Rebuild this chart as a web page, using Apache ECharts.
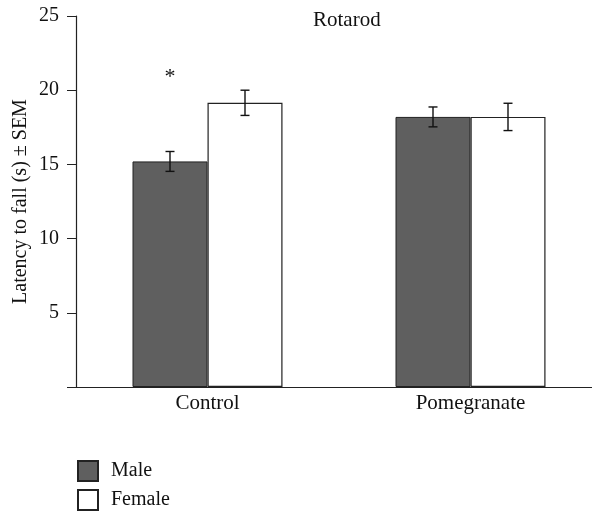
<!DOCTYPE html>
<html><head><meta charset="utf-8">
<script src="https://cdn.jsdelivr.net/npm/echarts@6/dist/echarts.min.js"></script>
<style>html,body{margin:0;padding:0;background:#fff}#c{width:592px;height:511px}</style>
</head><body><div id="c"></div>
<script>
const categories = ['Control', 'Pomegranate'];
const seriesNames = ['Male', 'Female'];
const maleMean = [15.2, 18.2];
const maleSem = [0.67, 0.67];
const femaleMean = [19.15, 18.2];
const femaleSem = [0.85, 0.92];
const sigMarks = ['*', ''];
const sigLevel = [20.9, null];
const yTicks = [0, 5, 10, 15, 20, 25];

const FONT = '"Liberation Serif", "DejaVu Serif", serif';
const chart = echarts.init(document.getElementById('c'));

function errRender(means, sems, side, marks) {
  return function (params, api) {
    const i = api.value(0);
    const off = side * 37.5;
    const top = api.coord([i, means[i] + sems[i]]);
    const bot = api.coord([i, means[i] - sems[i]]);
    const x = top[0] + off;
    const cap = 4.5;
    const st = { stroke: '#111', lineWidth: 1.4 };
    const children = [
      { type: 'line', shape: { x1: x, y1: top[1], x2: x, y2: bot[1] }, style: st },
      { type: 'line', shape: { x1: x - cap, y1: top[1], x2: x + cap, y2: top[1] }, style: st },
      { type: 'line', shape: { x1: x - cap, y1: bot[1], x2: x + cap, y2: bot[1] }, style: st }
    ];
    if (marks && marks[i]) {
      const p = api.coord([i, sigLevel[i]]);
      children.push({ type: 'text', style: { text: marks[i], x: x, y: p[1], align: 'center', verticalAlign: 'middle', font: '22px ' + FONT, fill: '#111' } });
    }
    return { type: 'group', children: children };
  };
}

const legendBase = {
  orient: 'vertical', left: 77, padding: 0, itemWidth: 20, itemHeight: 20,
  icon: 'rect',
  textStyle: { fontFamily: FONT, fontSize: 20, color: '#111', padding: [0, 0, 0, 8] }
};

chart.setOption({
  animation: false,
  title: { text: 'Rotarod', left: 313, top: 10, padding: 0, textStyle: { fontFamily: FONT, fontSize: 21, fontWeight: 'normal', color: '#111' } },
  legend: [
    Object.assign({}, legendBase, { top: 460, data: [seriesNames[0]] }),
    Object.assign({}, legendBase, { top: 489, data: [seriesNames[1]] })
  ],
  grid: { left: 76, top: 16, height: 371, width: 526, outerBoundsMode: 'none', containLabel: false },
  xAxis: {
    type: 'category', data: categories,
    axisLine: { lineStyle: { color: '#222', width: 1.2 } },
    axisTick: { show: false },
    axisLabel: { fontFamily: FONT, fontSize: 21, color: '#111', margin: 6 }
  },
  yAxis: {
    type: 'value', min: 0, max: 25, interval: 5,
    name: 'Latency to fall (s) ± SEM', nameLocation: 'middle', nameGap: 45, nameMoveOverlap: false,
    nameTextStyle: { fontFamily: FONT, fontSize: 20, color: '#111' },
    axisLine: { show: true, lineStyle: { color: '#222', width: 1.2 } },
    axisTick: { show: true, length: 9, lineStyle: { color: '#222' } },
    axisLabel: { fontFamily: FONT, fontSize: 20, color: '#111', margin: 17,
      formatter: v => (v === yTicks[0] ? '' : String(v)) },
    splitLine: { show: false }
  },
  series: [
    { name: seriesNames[0], type: 'bar', data: maleMean, barWidth: 75, barGap: '0%',
      itemStyle: { color: '#5f5f5f', borderColor: '#222', borderWidth: 1 } },
    { name: seriesNames[1], type: 'bar', data: femaleMean, barWidth: 75, barGap: '0%',
      itemStyle: { color: '#ffffff', borderColor: '#222', borderWidth: 1.2 } },
    { name: 'MaleErr', type: 'custom', data: categories.map((c, i) => [i]), z: 10,
      renderItem: errRender(maleMean, maleSem, -1, sigMarks) },
    { name: 'FemaleErr', type: 'custom', data: categories.map((c, i) => [i]), z: 10,
      renderItem: errRender(femaleMean, femaleSem, 1, null) }
  ]
});
</script></body></html>
